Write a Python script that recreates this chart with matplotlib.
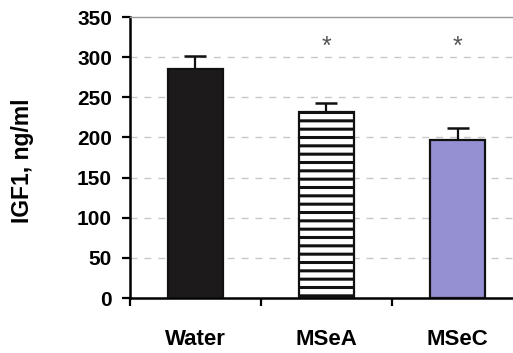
import matplotlib.pyplot as plt
import numpy as np

plt.rc("font", family=["Liberation Sans", "DejaVu Sans"])
plt.rc("hatch", linewidth=2.2, color="black")

# values
groups = ["Water", "MSeA", "MSeC"]
igf1 = [285, 232, 197]
sem = [16, 11, 15]
signif = ["", "*", "*"]
star_y = 313

fills = ["#1c1a1b", "white", "#9590d2"]
hatches = [None, "--", None]

fig = plt.figure(figsize=(5.13, 3.53), dpi=100)
ax = fig.add_axes([0.2534, 0.1558, 0.7661, 0.7960])

x = np.arange(len(groups))
for i in range(len(groups)):
    ax.bar(x[i], igf1[i], width=0.415, color=fills[i], edgecolor="#111111",
           linewidth=1.6, hatch=hatches[i], zorder=3)
ax.errorbar(x, igf1, yerr=[np.zeros(len(sem)), sem], fmt="none",
            ecolor="#111111", elinewidth=1.6, capsize=8, capthick=1.8, zorder=2)

for i, s in enumerate(signif):
    if s:
        ax.text(x[i], star_y, s, ha="center", va="center", fontsize=18,
                color="#555555")

ax.set_xlim(-0.5, 2.5)
ax.set_ylim(0, 350)
ax.set_yticks(np.arange(0, 351, 50))
for v in range(50, 301, 50):
    ax.axhline(v, color="#c8c8c8", linestyle=(0, (5, 5)), linewidth=1.0, zorder=0)

ax.set_xticks(x)
ax.set_xticklabels(groups, fontsize=16, fontweight="bold")
ax.set_xticks([-0.5, 0.5, 1.5, 2.5], minor=True)
ax.tick_params(axis="x", which="major", length=0, pad=22)
ax.tick_params(axis="x", which="minor", length=6, width=1.6, direction="out")
ax.tick_params(axis="y", length=6, width=1.6, direction="out", pad=7,
               labelsize=15)
for lab in ax.get_yticklabels():
    lab.set_fontweight("bold")

ax.set_ylabel("IGF1, ng/ml", fontsize=16.5, fontweight="bold")
ax.yaxis.set_label_coords(-0.245, 0.49)

ax.spines["left"].set_linewidth(1.8)
ax.spines["bottom"].set_linewidth(1.8)
ax.spines["top"].set_color("#999999")
ax.spines["top"].set_linewidth(1.0)
ax.spines["right"].set_visible(False)

fig.savefig("out.png", dpi=100)
